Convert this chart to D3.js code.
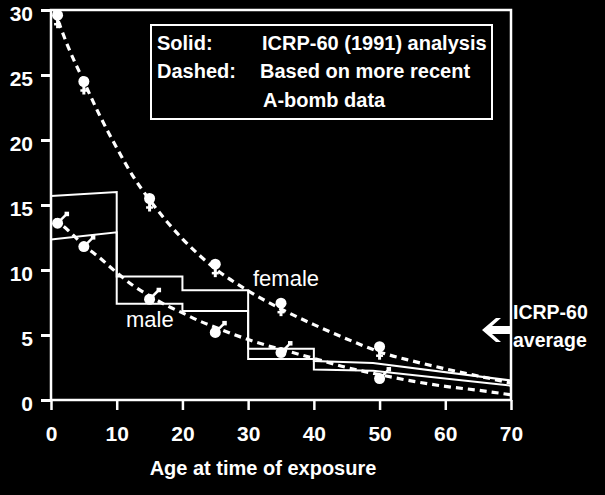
<!DOCTYPE html>
<html><head><meta charset="utf-8">
<script src="https://cdn.jsdelivr.net/npm/d3@7"></script>
<style>
html,body{margin:0;padding:0;background:#000;}
svg{display:block;}
text{font-family:"Liberation Sans",Arial,sans-serif;fill:#fff;}
</style></head>
<body>
<svg id="c" width="605" height="495"></svg>
<script>
// ---- data ----
const xTicks = [0,10,20,30,40,50,60,70];
const yTicks = [0,5,10,15,20,25,30];
const pointAges = [1,5,15,25,35,50];
const femalePoints = [29.6,24.5,15.5,10.45,7.45,4.1];
const malePoints = [13.6,11.8,7.75,5.2,3.65,1.65];

const femaleCurveX = [0.5,2.5,5,7.5,10,12.5,15,20,25,30,35,40,45,50,55,60,65,70];
const femaleCurveY = [30,27.3,24.5,21.8,19.4,17.2,15.4,12.4,10.1,8.4,7.0,5.8,4.7,3.7,3.0,2.4,1.85,1.3];
const maleCurveX = [0.5,2.5,5,7.5,10,12.5,15,17.5,20,22.5,25,27.5,30,32.5,35,40,45,50,55,60,65,70];
const maleCurveY = [13.9,13.1,11.9,10.9,9.8,8.8,8.0,7.3,6.7,6.1,5.6,5.1,4.65,4.25,3.9,3.2,2.5,1.95,1.45,1.05,0.75,0.4];

const icrpUpperX = [0,10,10,20,20,30,30,40,40,49,70];
const icrpUpperY = [15.7,16.0,9.5,9.5,8.45,8.45,3.95,3.95,3.0,2.85,1.5];
const icrpLowerX = [0,10,10,20,20,30,30,40,40,49,70];
const icrpLowerY = [12.35,12.9,7.4,7.4,6.85,6.85,3.15,3.15,2.35,2.25,1.1];

const legendKeys = ["Solid:","Dashed:",""];
const legendValues = ["ICRP-60 (1991) analysis","Based on more recent","A-bomb data"];
const xTitle = "Age at time of exposure";
const sideLabel = ["ICRP-60","average"];

// ---- drawing ----
const svg = d3.select("#c");
svg.append("rect").attr("width",605).attr("height",495).attr("fill","#000");

const x = d3.scaleLinear().domain([0,70]).range([51,511]);
const y = d3.scaleLinear().domain([0,30]).range([400,10]);

const line = d3.line().x(d=>x(d[0])).y(d=>y(d[1]));
const zip = (a,b)=>a.map((v,i)=>[v,b[i]]);

// ICRP solid step lines
[[icrpUpperX,icrpUpperY],[icrpLowerX,icrpLowerY]].forEach(([xs,ys])=>{
  svg.append("path").attr("d",line(zip(xs,ys)))
    .attr("fill","none").attr("stroke","#fff").attr("stroke-width",2);
});

// dashed curves
const curve = d3.line().x(d=>x(d[0])).y(d=>y(d[1])).curve(d3.curveMonotoneX);
[[femaleCurveX,femaleCurveY],[maleCurveX,maleCurveY]].forEach(([xs,ys])=>{
  svg.append("path").attr("d",curve(zip(xs,ys)))
    .attr("fill","none").attr("stroke","#fff").attr("stroke-width",3.2)
    .attr("stroke-dasharray","7,5");
});

// female markers
pointAges.forEach((a,i)=>{
  const cx = x(a), cy = y(femalePoints[i]);
  const g = svg.append("g");
  g.append("circle").attr("cx",cx).attr("cy",cy).attr("r",5.5).attr("fill","#fff");
  g.append("line").attr("x1",cx).attr("x2",cx).attr("y1",cy+3).attr("y2",cy+13)
    .attr("stroke","#fff").attr("stroke-width",3);
  g.append("line").attr("x1",cx-3.5).attr("x2",cx+3.5).attr("y1",cy+9).attr("y2",cy+9)
    .attr("stroke","#fff").attr("stroke-width",2.5);
});
// male markers
pointAges.forEach((a,i)=>{
  const cx = x(a), cy = y(malePoints[i]);
  const g = svg.append("g");
  g.append("circle").attr("cx",cx).attr("cy",cy).attr("r",5.5).attr("fill","#fff");
  g.append("line").attr("x1",cx).attr("y1",cy).attr("x2",cx+8).attr("y2",cy-8)
    .attr("stroke","#fff").attr("stroke-width",2.5);
  g.append("rect").attr("x",cx+7).attr("y",cy-11.5).attr("width",4.5).attr("height",4.5).attr("fill","#fff");
});

// frame
svg.append("rect").attr("x",x(0)).attr("y",y(30)).attr("width",x(70)-x(0)).attr("height",y(0)-y(30))
  .attr("fill","none").attr("stroke","#fff").attr("stroke-width",2.5);

// axes
const yAxis = svg.append("g").attr("transform",`translate(${x(0)},0)`)
  .call(d3.axisLeft(y).tickValues(yTicks).tickSize(10).tickPadding(8).tickSizeOuter(0));
yAxis.select(".domain").remove();
yAxis.selectAll("line").attr("stroke","#fff").attr("stroke-width",3);
yAxis.selectAll("text").attr("fill","#fff").attr("dy","0.5em")
  .style("font-size","21px").style("font-weight","bold").attr("font-family",null);

const xAxis = svg.append("g").attr("transform",`translate(0,${y(0)})`)
  .call(d3.axisBottom(x).tickValues(xTicks).tickSize(10).tickPadding(16).tickSizeOuter(0));
xAxis.select(".domain").remove();
xAxis.selectAll("line").attr("stroke","#fff").attr("stroke-width",2.5);
xAxis.selectAll("text").attr("fill","#fff")
  .style("font-size","21px").style("font-weight","bold").attr("font-family",null);

svg.append("text").attr("x",263).attr("y",475).attr("text-anchor","middle")
  .style("font-size","20px").style("font-weight","bold").text(xTitle);

// legend box
svg.append("rect").attr("x",151).attr("y",25).attr("width",341).attr("height",94)
  .attr("fill","#000").attr("stroke","#fff").attr("stroke-width",2);
const rowsY = [50,78,107];
const valX = [262,260,263];
legendKeys.forEach((k,i)=>{
  svg.append("text").attr("x",157).attr("y",rowsY[i]).style("font-size","20px").style("font-weight","bold").text(k);
  svg.append("text").attr("x",valX[i]).attr("y",rowsY[i]).style("font-size","20px").style("font-weight","bold").text(legendValues[i]);
});

// curve labels
svg.append("text").attr("x",253).attr("y",286).style("font-size","22px").text("female");
svg.append("text").attr("x",126).attr("y",327).style("font-size","22px").text("male");

// side label + arrow
svg.append("text").attr("x",513).attr("y",319).style("font-size","19.5px").style("font-weight","bold").text(sideLabel[0]);
svg.append("text").attr("x",513).attr("y",347).style("font-size","19.5px").style("font-weight","bold").text(sideLabel[1]);
svg.append("path").attr("d","M482,330 L496,318 L501,318 L492,326 L510,326 L510,334 L492,334 L501,342 L496,342 Z")
  .attr("fill","#fff");
</script>
</body></html>
